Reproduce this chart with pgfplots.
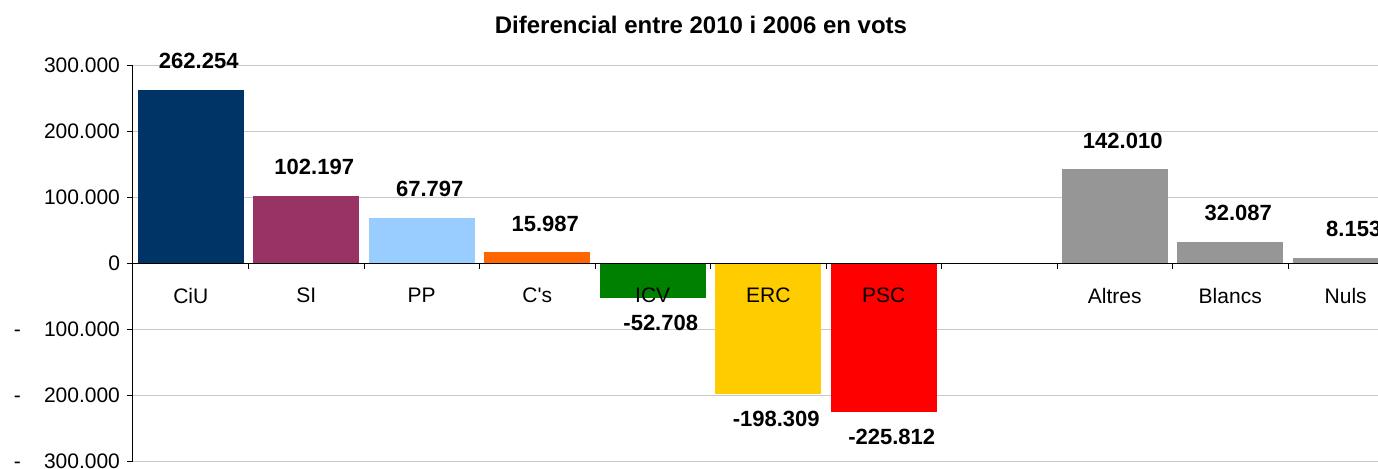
\documentclass[border=0pt]{standalone}
\usepackage{pgfplots}
\pgfplotsset{compat=1.18}
\usepackage{fontspec}
\setmainfont{Liberation Sans}
\definecolor{ciu}{HTML}{003366}
\definecolor{si}{HTML}{993366}
\definecolor{pp}{HTML}{99CCFF}
\definecolor{cs}{HTML}{FF6600}
\definecolor{icv}{HTML}{008000}
\definecolor{erc}{HTML}{FFCC00}
\definecolor{psc}{HTML}{FF0000}
\definecolor{altres}{HTML}{969696}
\definecolor{gridGrey}{HTML}{C8C8C8}
\newcommand{\negl}[1]{\makebox[53pt]{-\hfill #1}}
\pgfplotsset{
  pos/.style={fill=#1, draw=none, nodes near coords, point meta=explicit symbolic,
    every node near coord/.append style={font=\bfseries\fontsize{11}{13}\selectfont, anchor=south, yshift=7pt, xshift=4pt}},
  neg/.style={fill=#1, draw=none, nodes near coords, point meta=explicit symbolic,
    every node near coord/.append style={font=\bfseries\fontsize{11}{13}\selectfont, anchor=north, yshift=-5pt, xshift=4pt}},
}
\begin{document}
\begin{tikzpicture}
\begin{axis}[
  axis on top,
  at={(66.5pt,3.5pt)}, anchor=south west,
  scale only axis, width=635.25pt, height=198pt,
  xmin=-0.5, xmax=10.5, ymin=-300000, ymax=300000,
  ybar, bar width=53pt, bar shift=0pt,
  axis x line*=middle, axis y line*=left,
  axis line style={black, line width=0.5pt},
  font=\fontsize{10.5}{12}\selectfont,
  scaled y ticks=false,
  xtick={0.5,1.5,...,10.5},
  xticklabels={},
  x tick style={black},
  extra x ticks={0,...,10},
  extra x tick labels={CiU,SI,PP,C\textquotesingle s,ICV,ERC,PSC,,Altres,Blancs,Nuls},
  extra x tick style={tick style={draw=none}, xticklabel style={yshift=-6pt}},
  ytick={-300000,-200000,-100000,0,100000,200000,300000},
  yticklabels={\negl{300.000},\negl{200.000},\negl{100.000},0,100.000,200.000,300.000},
  yticklabel style={align=right},
  y tick style={black}, major tick length=3pt, tick align=outside,
  clip=false,
]
% horizontal grid, drawn first so that the bars cover it
\pgfplotsinvokeforeach{-300000,-200000,-100000,100000,200000,300000}{
  \draw[gridGrey, line width=0.5pt] (axis cs:-0.5,#1) -- (axis cs:10.5,#1);
}
\addplot[pos=ciu] coordinates {(0,262254) [262.254]};
\addplot[pos=si] coordinates {(1,102197) [102.197]};
\addplot[pos=pp] coordinates {(2,67797) [67.797]};
\addplot[pos=cs] coordinates {(3,15987) [15.987]};
\addplot[neg=icv] coordinates {(4,-52708) [-52.708]};
\addplot[neg=erc] coordinates {(5,-198309) [-198.309]};
\addplot[neg=psc] coordinates {(6,-225812) [-225.812]};
\addplot[pos=altres] coordinates {(8,142010) [142.010]};
\addplot[pos=altres] coordinates {(9,32087) [32.087]};
\addplot[pos=altres] coordinates {(10,8153) [8.153]};
\end{axis}
\pgfresetboundingbox
\path[use as bounding box] (0,0) rectangle (689pt,234pt);
\node[font=\bfseries\fontsize{12}{14}\selectfont] at (350.5pt,221.5pt) {Diferencial entre 2010 i 2006 en vots};
\end{tikzpicture}
\end{document}
